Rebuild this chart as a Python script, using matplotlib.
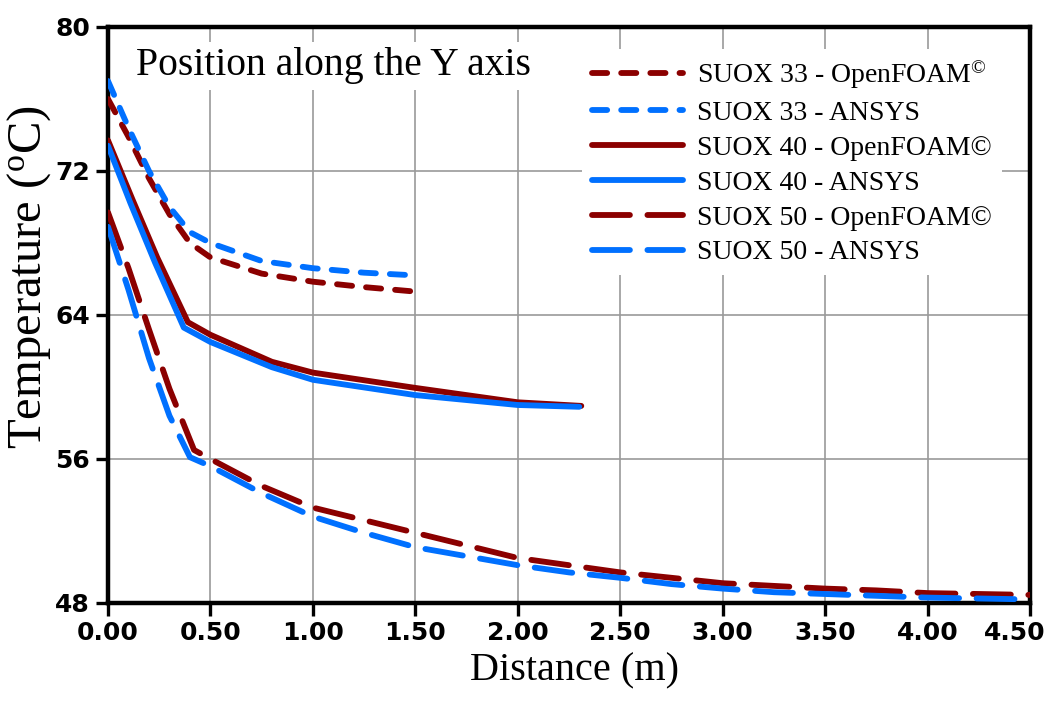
import matplotlib
matplotlib.use("Agg")
import matplotlib.pyplot as plt
from matplotlib.transforms import ScaledTranslation

plt.rcParams["mathtext.fontset"] = "custom"
plt.rcParams["mathtext.rm"] = "Liberation Serif"
plt.rcParams["mathtext.it"] = "Liberation Serif:italic"

RED = "#8B0000"
BLUE = "#0070FF"

# Temperature profiles along the Y axis: distance (m) -> temperature (°C)
x_suox33_of = [0.0, 0.1, 0.2, 0.3, 0.4, 0.5, 0.75, 1.0, 1.25, 1.5]
t_suox33_of = [76.0, 73.9, 71.6, 69.6, 68.0, 67.2, 66.3, 65.85, 65.55, 65.3]

x_suox33_an = [0.0, 0.1, 0.2, 0.3, 0.4, 0.5, 0.75, 1.0, 1.25, 1.5]
t_suox33_an = [77.0, 74.4, 72.0, 70.0, 68.6, 68.0, 67.0, 66.6, 66.35, 66.2]

x_suox40_of = [0.0, 0.12, 0.24, 0.39, 0.5, 0.8, 1.0, 1.5, 2.0, 2.31]
t_suox40_of = [73.7, 70.4, 67.2, 63.6, 62.9, 61.4, 60.8, 59.95, 59.15, 58.95]

x_suox40_an = [0.0, 0.11, 0.23, 0.37, 0.5, 0.8, 1.0, 1.5, 2.0, 2.3]
t_suox40_an = [73.4, 70.2, 66.9, 63.3, 62.5, 61.1, 60.4, 59.55, 59.0, 58.9]

x_suox50_of = [0.0, 0.1, 0.2, 0.3, 0.42, 0.5, 0.75, 1.0, 1.25, 1.5, 1.75, 2.0,
               2.25, 2.5, 2.75, 3.0, 3.25, 3.5, 3.75, 4.0, 4.25, 4.5]
t_suox50_of = [69.7, 66.6, 63.2, 59.9, 56.5, 56.0, 54.5, 53.3, 52.6, 51.9, 51.2, 50.5,
               50.1, 49.7, 49.4, 49.1, 48.95, 48.8, 48.7, 48.55, 48.5, 48.45]

x_suox50_an = [0.0, 0.1, 0.2, 0.3, 0.4, 0.5, 0.75, 1.0, 1.25, 1.5, 1.75, 2.0,
               2.25, 2.5, 2.75, 3.0, 3.25, 3.5, 3.75, 4.0, 4.25, 4.5]
t_suox50_an = [68.9, 65.4, 61.6, 58.4, 56.1, 55.6, 54.1, 52.8, 51.9, 51.1, 50.6, 50.1,
               49.7, 49.4, 49.05, 48.8, 48.6, 48.5, 48.4, 48.3, 48.25, 48.2]

x_ticks = [0.0, 0.5, 1.0, 1.5, 2.0, 2.5, 3.0, 3.5, 4.0, 4.5]
y_ticks = [48, 56, 64, 72, 80]

fig = plt.figure(figsize=(10.57, 7.02), dpi=100)
ax = fig.add_axes([108 / 1057, 1 - 603 / 702, (1030 - 108) / 1057, (603 - 27) / 702])

lw = 4.2
short_dash = (2.6, 2.4)
long_dash = (6.5, 3.0)

series = [
    (x_suox33_of, t_suox33_of, RED, short_dash, r"SUOX 33 - OpenFOAM$^{\copyright}$"),
    (x_suox33_an, t_suox33_an, BLUE, short_dash, "SUOX 33 - ANSYS"),
    (x_suox40_of, t_suox40_of, RED, None, "SUOX 40 - OpenFOAM©"),
    (x_suox40_an, t_suox40_an, BLUE, None, "SUOX 40 - ANSYS"),
    (x_suox50_of, t_suox50_of, RED, long_dash, "SUOX 50 - OpenFOAM©"),
    (x_suox50_an, t_suox50_an, BLUE, long_dash, "SUOX 50 - ANSYS"),
]

for xs, ts, color, dash, label in series:
    line, = ax.plot(xs, ts, color=color, lw=lw, label=label,
                    solid_capstyle="round", dash_capstyle="round",
                    solid_joinstyle="round", zorder=3)
    if dash is not None:
        line.set_dashes(dash)

ax.set_xlim(0, 4.5)
ax.set_ylim(48, 80)
ax.set_xticks(x_ticks)
ax.set_yticks(y_ticks)
ax.set_xticklabels([f"{v:.2f}" for v in x_ticks])
ax.set_yticklabels([str(v) for v in y_ticks])

ax.grid(True, color="#9a9a9a", lw=1.2, zorder=0)
ax.set_axisbelow(True)

for sp in ax.spines.values():
    sp.set_linewidth(3.2)
    sp.set_color("black")

ax.tick_params(axis="both", direction="out", length=9, width=2.4,
               colors="black", pad=4)
for lab in ax.get_xticklabels() + ax.get_yticklabels():
    lab.set_fontfamily("DejaVu Sans")
    lab.set_fontweight("bold")
    lab.set_fontsize(18)

# keep the last distance label inside the figure
last = ax.get_xticklabels()[-1]
last.set_transform(last.get_transform() + ScaledTranslation(-0.15, 0, fig.dpi_scale_trans))

ax.set_xlabel("Distance (m)", fontsize=29, family="Liberation Serif")
ax.xaxis.set_label_coords(0.506, -0.085)
ax.xaxis.label.set_va("top")
ax.set_ylabel(r"Temperature ($^{\mathrm{o}}$C)", fontsize=35,
              family="Liberation Serif")
ax.yaxis.set_label_coords(-0.06, 0.565)

ax.text(0.03, 0.965, "Position along the Y axis", transform=ax.transAxes,
        fontsize=28.5, family="Liberation Serif", ha="left", va="top", zorder=4,
        bbox=dict(facecolor="white", edgecolor="none", pad=4))

leg = ax.legend(loc="upper left", bbox_to_anchor=(568 / 1057, 1 - 35 / 702),
                bbox_transform=fig.transFigure, frameon=True, fancybox=False,
                edgecolor="none", facecolor="white", framealpha=1,
                prop={"family": "Liberation Serif", "size": 20},
                handlelength=3.3, handletextpad=0.5, labelspacing=0.34,
                borderpad=0.35)
leg.set_zorder(5)

fig.savefig("out.png", dpi=100)
